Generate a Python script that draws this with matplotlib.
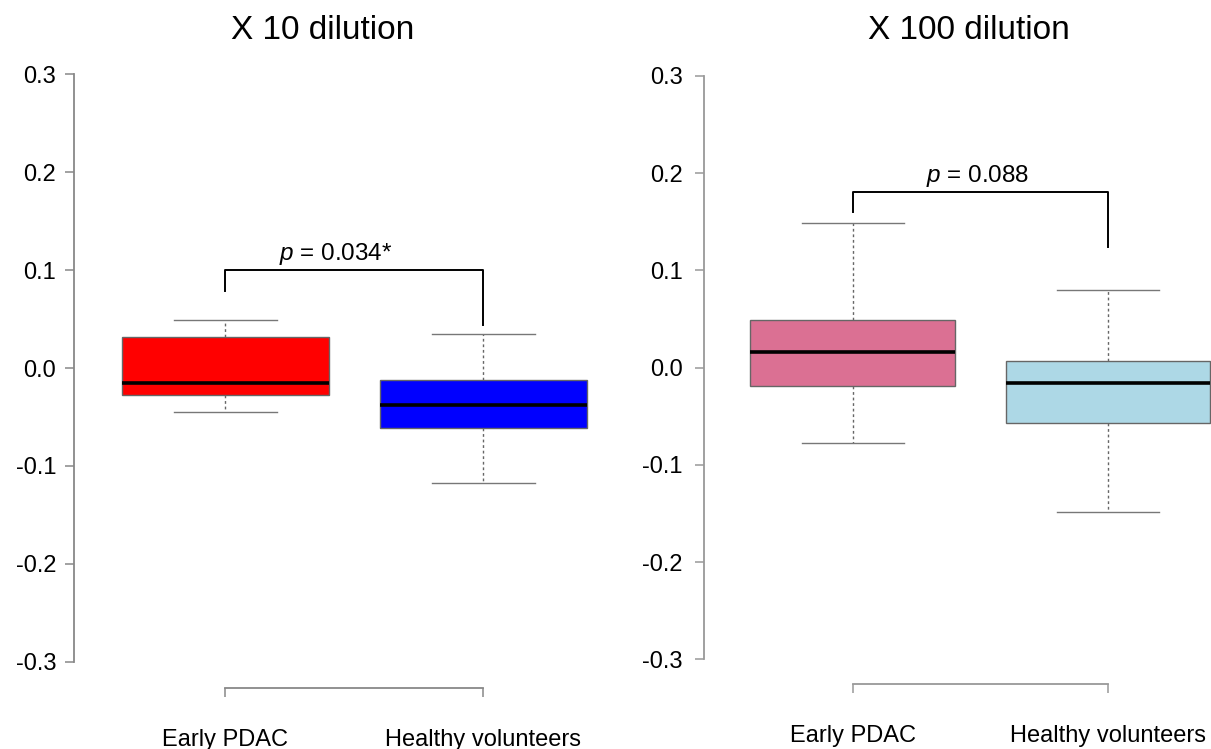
import matplotlib
matplotlib.use('Agg')
import matplotlib.pyplot as plt

plt.rcParams['font.family'] = ['Liberation Sans', 'DejaVu Sans']
plt.rcParams['mathtext.fontset'] = 'custom'
plt.rcParams['mathtext.it'] = 'Liberation Sans:italic'
plt.rcParams['mathtext.rm'] = 'Liberation Sans'

# group labels
groups = ['Early PDAC', 'Healthy volunteers']
yticks = [-0.3, -0.2, -0.1, 0.0, 0.1, 0.2, 0.3]

# X 10 dilution box statistics
d10_whislo = [-0.045, -0.118]
d10_q1 = [-0.028, -0.061]
d10_med = [-0.015, -0.038]
d10_q3 = [0.032, -0.012]
d10_whishi = [0.049, 0.035]
d10_colors = ['#FF0000', '#0000FF']
d10_bracket = [0.100, 0.079, 0.044]   # top, left leg end, right leg end
d10_p = r'$p$ = 0.034*'

# X 100 dilution box statistics
d100_whislo = [-0.078, -0.149]
d100_q1 = [-0.019, -0.057]
d100_med = [0.016, -0.016]
d100_q3 = [0.049, 0.007]
d100_whishi = [0.149, 0.080]
d100_colors = ['#DB7093', '#ADD8E6']
d100_bracket = [0.181, 0.160, 0.124]
d100_p = r'$p$ = 0.088'

fig = plt.figure(figsize=(12.11, 7.49), dpi=100)

def make_stats(lo, q1, med, q3, hi):
    stats = []
    for i in range(len(med)):
        stats.append(dict(whislo=lo[i], q1=q1[i], med=med[i], q3=q3[i],
                          whishi=hi[i], fliers=[]))
    return stats

def draw_panel(ax, stats, colors, bracket, ptext, px, py, xlim, ylim, lpad, spc):
    bp = ax.bxp(stats, positions=[1, 2], widths=0.8, patch_artist=True,
                showfliers=False,
                boxprops=dict(edgecolor='#666666', linewidth=1.0),
                medianprops=dict(color='black', linewidth=2.6),
                whiskerprops=dict(color='#666666', linewidth=1.0, linestyle=(0, (2, 2))),
                capprops=dict(color='#777777', linewidth=1.0),
                capwidths=0.4)
    for patch, c in zip(bp['boxes'], colors):
        patch.set_facecolor(c)

    # significance bracket
    ax.plot([1, 1, 2, 2], [bracket[1], bracket[0], bracket[0], bracket[2]],
            color='black', lw=1.4, clip_on=False)
    ax.text(px, py, ptext, ha='center', va='center', fontsize=17.5)

    ax.set_xlim(*xlim)
    ax.set_ylim(*ylim)
    for s in ['top', 'right']:
        ax.spines[s].set_visible(False)
    ax.spines['left'].set_bounds(-0.3, 0.3)
    ax.spines['bottom'].set_bounds(1, 2)
    for s in ['left', 'bottom']:
        ax.spines[s].set_color(spc)
        ax.spines[s].set_linewidth(1.3)
    ax.set_yticks(yticks)
    ax.set_yticklabels(['%.1f' % t for t in yticks])
    ax.set_xticks([1, 2])
    ax.set_xticklabels(groups)
    ax.tick_params(axis='y', direction='out', length=6.5, width=1.1,
                   color=spc, labelsize=17, pad=lpad)
    ax.tick_params(axis='x', direction='out', length=6.5, width=1.1,
                   color=spc, labelsize=17, pad=23)
    ax.patch.set_alpha(0)

ax1 = fig.add_axes([0.0614, 0.0814, 0.4624, 0.8545])
draw_panel(ax1, make_stats(d10_whislo, d10_q1, d10_med, d10_q3, d10_whishi),
           d10_colors, d10_bracket, d10_p, 1.429, 0.117,
           (0.415, 2.585), (-0.327, 0.327), 6.5, '#888888')

ax2 = fig.add_axes([0.5817, 0.0868, 0.4558, 0.845])
draw_panel(ax2, make_stats(d100_whislo, d100_q1, d100_med, d100_q3, d100_whishi),
           d100_colors, d100_bracket, d100_p, 1.491, 0.197,
           (0.42, 2.58), (-0.3254, 0.3254), 9, '#999999')

fig.text(0.2664, 0.959, 'X 10 dilution', ha='center', va='center', fontsize=24)
fig.text(0.8002, 0.959, 'X 100 dilution', ha='center', va='center', fontsize=24)

fig.savefig('out.png', dpi=100)
